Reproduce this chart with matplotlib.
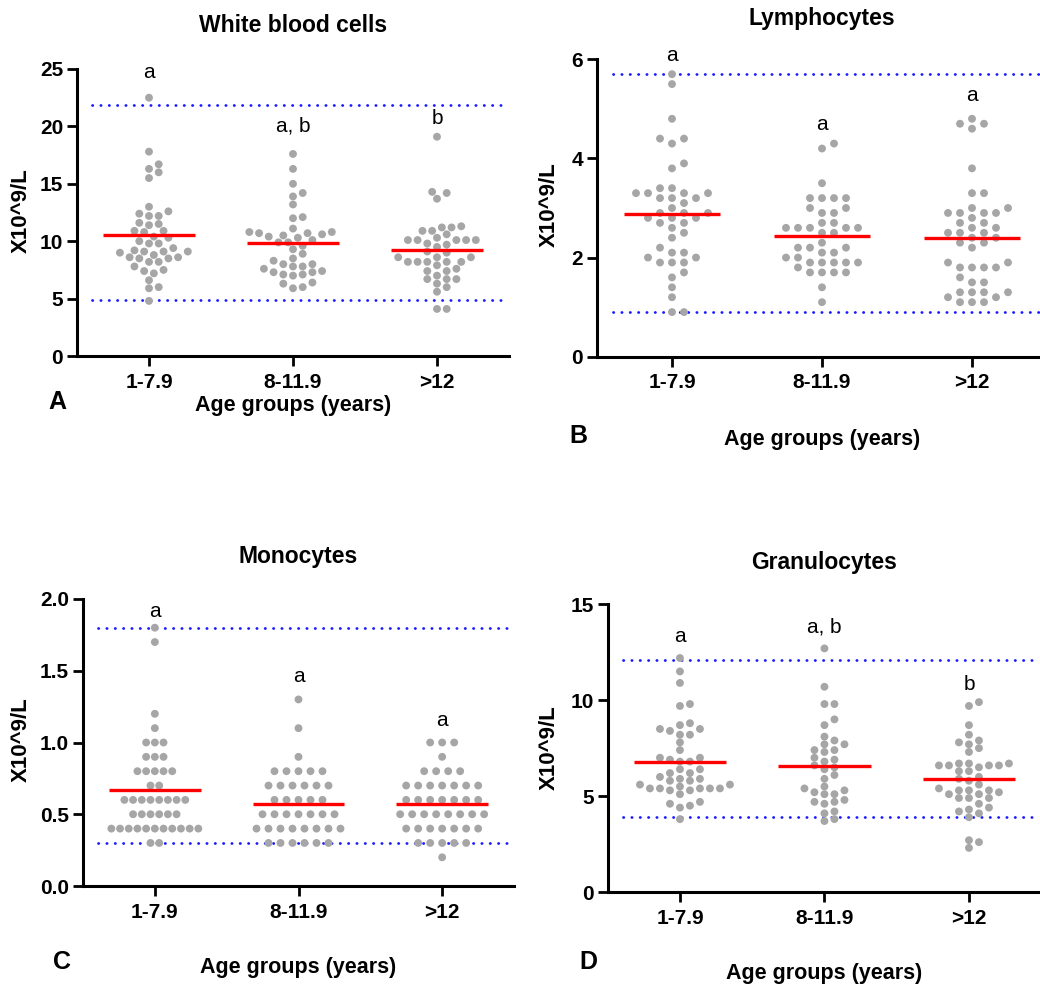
"""Beeswarm panels of blood counts by age group."""

import matplotlib
matplotlib.use("Agg")
import matplotlib.pyplot as plt
import numpy as np

plt.rcParams["font.family"] = ["Liberation Sans", "DejaVu Sans"]

FIG_W, FIG_H = 1040, 990
GROUPS = ["1-7.9", "8-11.9", ">12"]
POINT_COLOR = "#a6a6a6"
LINE_COLOR = "#ff0000"
REF_COLOR = "#1a1aff"

# White blood cells (X10^9/L)
wbc_young = [22.5, 17.8, 16.7, 16.3, 16.0, 15.5, 13.0, 12.6, 12.4, 12.2, 12.2, 11.6, 11.5,
             11.4, 10.9, 10.9, 10.8, 10.4, 10.3, 10.0, 9.8, 9.8, 9.4, 9.2, 9.1, 9.1, 9.1,
             9.0, 8.8, 8.6, 8.6, 8.5, 8.5, 8.2, 8.2, 7.8, 7.5, 7.4, 7.2, 6.6, 6.0, 5.9, 4.8]
wbc_mid = [17.6, 16.3, 15.0, 14.2, 13.9, 13.2, 12.1, 12.0, 11.1, 10.8, 10.8, 10.7, 10.7,
           10.6, 10.5, 10.4, 10.3, 10.1, 9.9, 9.9, 9.6, 9.3, 8.9, 8.5, 8.3, 8.0, 8.0, 7.8,
           7.8, 7.6, 7.4, 7.3, 7.3, 7.1, 7.1, 7.0, 6.4, 6.3, 6.0, 5.9]
wbc_old = [19.1, 14.3, 14.2, 13.7, 11.3, 11.2, 11.2, 10.9, 10.9, 10.6, 10.3, 10.1, 10.1,
           10.1, 10.1, 10.1, 9.8, 9.7, 9.5, 9.1, 9.0, 8.6, 8.6, 8.6, 8.2, 8.2, 8.2, 8.2,
           8.2, 7.9, 7.6, 7.4, 7.4, 7.0, 6.7, 6.7, 6.7, 6.3, 6.0, 5.6, 4.1, 4.1]
wbc_center = [10.5, 9.8, 9.2]
wbc_refs = [4.9, 21.9]
wbc_letters = ["a", "a, b", "b"]
wbc_letter_y = [24.7, 20.0, 20.7]

# Lymphocytes
lym_young = [5.7, 5.5, 4.8, 4.4, 4.4, 4.3, 3.9, 3.8, 3.4, 3.4, 3.3, 3.3, 3.3, 3.3, 3.2, 3.2,
             3.2, 3.1, 3.0, 2.9, 2.9, 2.9, 2.8, 2.8, 2.8, 2.7, 2.7, 2.6, 2.5, 2.4, 2.2, 2.1,
             2.1, 2.0, 2.0, 1.9, 1.9, 1.9, 1.7, 1.6, 1.4, 1.2, 0.9, 0.9]
lym_mid = [4.3, 4.2, 3.5, 3.2, 3.2, 3.2, 3.2, 3.0, 3.0, 2.9, 2.9, 2.7, 2.7, 2.6, 2.6, 2.6,
           2.6, 2.6, 2.5, 2.5, 2.3, 2.2, 2.2, 2.2, 2.1, 2.1, 2.0, 2.0, 1.9, 1.9, 1.9, 1.9,
           1.9, 1.8, 1.7, 1.7, 1.7, 1.7, 1.4, 1.1]
lym_old = [4.8, 4.7, 4.7, 4.6, 3.8, 3.3, 3.3, 3.0, 3.0, 2.9, 2.9, 2.9, 2.9, 2.8, 2.7, 2.7,
           2.6, 2.6, 2.5, 2.5, 2.5, 2.4, 2.4, 2.3, 2.3, 2.2, 1.9, 1.9, 1.8, 1.8, 1.8, 1.8,
           1.6, 1.5, 1.5, 1.3, 1.3, 1.3, 1.3, 1.2, 1.2, 1.1, 1.1, 1.1]
lym_center = [2.87, 2.43, 2.39]
lym_refs = [0.9, 5.7]
lym_letters = ["a", "a", "a"]
lym_letter_y = [6.08, 4.69, 5.26]

# Monocytes
mono_young = [1.8, 1.7, 1.2, 1.1] + [1.0] * 3 + [0.9] * 3 + [0.8] * 5 + [0.7] * 2 + \
             [0.6] * 8 + [0.5] * 6 + [0.4] * 11 + [0.3] * 2
mono_mid = [1.3, 1.1, 0.9] + [0.8] * 5 + [0.7] * 6 + [0.6] * 5 + [0.5] * 7 + [0.4] * 8 + \
           [0.3] * 6
mono_old = [1.0] * 3 + [0.9] + [0.8] * 4 + [0.7] * 7 + [0.6] * 7 + [0.5] * 8 + [0.4] * 7 + \
           [0.3] * 5 + [0.2]
mono_center = [0.67, 0.57, 0.57]
mono_refs = [0.3, 1.8]
mono_letters = ["a", "a", "a"]
mono_letter_y = [1.91, 1.46, 1.15]

# Granulocytes
gran_young = [12.2, 11.5, 10.9, 9.8, 9.7, 8.8, 8.7, 8.5, 8.5, 8.4, 8.2, 8.2, 7.8, 7.4, 7.0,
              7.0, 6.9, 6.8, 6.8, 6.4, 6.4, 6.2, 6.2, 6.0, 5.9, 5.9, 5.8, 5.8, 5.6, 5.6, 5.5,
              5.4, 5.4, 5.4, 5.4, 5.4, 5.3, 5.3, 5.1, 4.7, 4.6, 4.5, 4.4, 3.8]
gran_mid = [12.7, 10.7, 9.8, 9.8, 9.0, 8.7, 8.1, 7.9, 7.7, 7.7, 7.4, 7.4, 7.3, 7.0, 6.9, 6.8,
            6.6, 6.5, 6.4, 6.1, 5.9, 5.5, 5.4, 5.3, 5.2, 5.1, 5.1, 4.8, 4.7, 4.7, 4.6, 4.2,
            4.1, 3.8, 3.7]
gran_old = [9.9, 9.7, 8.7, 8.2, 7.9, 7.8, 7.7, 7.5, 7.3, 6.7, 6.7, 6.7, 6.6, 6.6, 6.6, 6.6,
            6.5, 6.3, 6.3, 6.0, 5.9, 5.8, 5.6, 5.4, 5.3, 5.3, 5.3, 5.2, 5.1, 5.1, 4.9, 4.9,
            4.9, 4.6, 4.4, 4.3, 4.2, 4.1, 3.9, 2.7, 2.6, 2.3]
gran_center = [6.78, 6.57, 5.9]
gran_refs = [3.9, 12.1]
gran_letters = ["a", "a, b", "b"]
gran_letter_y = [13.3, 13.8, 10.8]


def swarm_offsets(y_px, sx, sy):
    """Horizontal pixel offsets so no two dots sit inside an sx-by-sy ellipse."""
    step = sx / 2.0
    cands = [0.0]
    for k in range(1, 40):
        cands += [k * step, -k * step]
    offsets = np.zeros(len(y_px))
    placed = []
    for i in np.argsort(y_px, kind="stable"):
        y = y_px[i]
        for c in cands:
            if all(((c - px) / sx) ** 2 + ((y - py) / sy) ** 2 >= 1.0 for px, py in placed):
                offsets[i] = c
                placed.append((c, y))
                break
    return offsets


def row_offsets(values, spacing):
    """Tied values laid out in centred rows."""
    values = np.asarray(values)
    offsets = np.zeros(len(values))
    for v in np.unique(values):
        idx = np.where(values == v)[0]
        offsets[idx] = (np.arange(len(idx)) - (len(idx) - 1) / 2.0) * spacing
    return offsets


def draw_panel(rect, title, columns, centers, refs, ylim, yticks, fmt, letters, letter_y,
               layout, sx=10.0, sy=7.0, rows=False):
    fig = plt.gcf()
    ax = fig.add_axes(rect)
    ax_w = rect[2] * FIG_W
    ax_h = rect[3] * FIG_H
    ax.set_xlim(-0.5, 2.5)
    ax.set_ylim(*ylim)

    for ref in refs:
        ax.axhline(ref, xmin=0.035, xmax=0.985, color=REF_COLOR, lw=2.0,
                   linestyle=(0, (0.1, 2.9)), dash_capstyle="round", zorder=1)

    for i, vals in enumerate(columns):
        vals = np.asarray(vals, dtype=float)
        if rows:
            longest = max(np.unique(vals, return_counts=True)[1])
            spacing = min(12.0, 87.0 / max(longest - 1, 1))
            off_px = row_offsets(vals, spacing)
        else:
            y_px = (vals - ylim[0]) / (ylim[1] - ylim[0]) * ax_h
            off_px = swarm_offsets(y_px, sx, sy)
        x = i + off_px / (ax_w / 3.0)
        ax.scatter(x, vals, s=32, color=POINT_COLOR, edgecolors="none", zorder=2,
                   clip_on=False)
        ax.hlines(centers[i], i - 0.32, i + 0.32, color=LINE_COLOR, lw=2.4, zorder=3)
        ax.text(i, letter_y[i], letters[i], ha="center", va="center", fontsize=15)

    ax.set_yticks(yticks)
    ax.set_yticklabels([fmt.format(t) for t in yticks], fontweight="bold", fontsize=15)
    ax.set_xticks(range(3))
    ax.set_xticklabels(GROUPS, fontweight="bold", fontsize=15)
    ax.tick_params(axis="both", length=7, width=2, color="black", pad=3)
    ax.tick_params(axis="x", pad=5)
    for side in ["top", "right"]:
        ax.spines[side].set_visible(False)
    for side in ["left", "bottom"]:
        ax.spines[side].set_linewidth(2.2)

    cx = (rect[0] + rect[2] / 2.0)
    t_y, yl_x, yl_y, xl_y, letter, lx, ly = layout
    fig.text(cx, 1 - t_y / FIG_H, title, ha="center", va="center", fontsize=16.5,
             fontweight="bold")
    fig.text(yl_x / FIG_W, 1 - yl_y / FIG_H, "X10^9/L", rotation=90, ha="center",
             va="center", fontsize=16, fontweight="bold")
    fig.text(cx, 1 - xl_y / FIG_H, "Age groups (years)", ha="center", va="center",
             fontsize=15.5, fontweight="bold")
    fig.text(lx / FIG_W, 1 - ly / FIG_H, letter, ha="center", va="center", fontsize=18,
             fontweight="bold")
    return ax


def main():
    fig = plt.figure(figsize=(FIG_W / 100, FIG_H / 100), dpi=100)

    draw_panel([77 / FIG_W, 1 - 356 / FIG_H, 432 / FIG_W, 287 / FIG_H],
               "White blood cells", [wbc_young, wbc_mid, wbc_old], wbc_center, wbc_refs,
               (0, 25), [0, 5, 10, 15, 20, 25], "{:g}", wbc_letters, wbc_letter_y,
               (25, 21, 211, 406, "A", 57, 402), sx=9.7, sy=7.0)
    draw_panel([597 / FIG_W, 1 - 356.7 / FIG_H, 450 / FIG_W, 297.4 / FIG_H],
               "Lymphocytes", [lym_young, lym_mid, lym_old], lym_center, lym_refs,
               (0, 6), [0, 2, 4, 6], "{:g}", lym_letters, lym_letter_y,
               (19, 549, 205, 440, "B", 578, 436), sx=12.0, sy=9.0)
    draw_panel([83 / FIG_W, 1 - 886 / FIG_H, 431 / FIG_W, 287 / FIG_H],
               "Monocytes", [mono_young, mono_mid, mono_old], mono_center, mono_refs,
               (0, 2.0), [0.0, 0.5, 1.0, 1.5, 2.0], "{:.1f}", mono_letters, mono_letter_y,
               (556, 21, 740, 968, "C", 62, 962), rows=True)
    draw_panel([607.7 / FIG_W, 1 - 892 / FIG_H, 433.5 / FIG_W, 287.7 / FIG_H],
               "Granulocytes", [gran_young, gran_mid, gran_old], gran_center, gran_refs,
               (0, 15), [0, 5, 10, 15], "{:g}", gran_letters, gran_letter_y,
               (562, 549, 748, 974, "D", 588, 962), sx=10.0, sy=7.0)

    fig.savefig("out.png", dpi=100)
    plt.close(fig)
    return 0


if __name__ == "__main__":
    raise SystemExit(main())
